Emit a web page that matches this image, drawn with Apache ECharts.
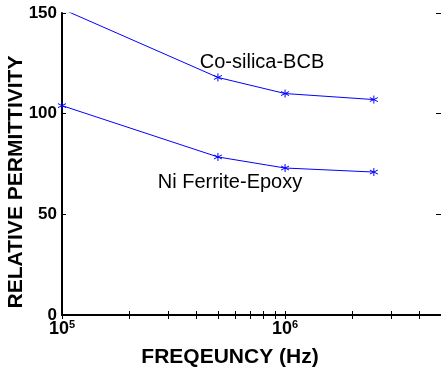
<!DOCTYPE html>
<html>
<head>
<meta charset="utf-8">
<script src="https://cdn.jsdelivr.net/npm/echarts@6/dist/echarts.min.js"></script>
<style>
  html, body { margin: 0; padding: 0; background: #fff; }
  #chart { width: 441px; height: 372px; }
</style>
</head>
<body>
<div id="chart"></div>
<script>
var frequencies = [1e5, 5e5, 1e6, 2.5e6];
var coSilicaBcb = [152, 118, 110, 107];
var niFerriteEpoxy = [104, 78.5, 73, 71];
var xTicks = [1e5, 2e5, 3e5, 4e5, 5e5, 6e5, 7e5, 8e5, 9e5, 1e6, 2e6, 3e6, 4e6, 5e6];
var xLabels = [1e5, 1e6];
var seriesNames = ['Co-silica-BCB', 'Ni Ferrite-Epoxy'];

var FONT = '"Liberation Sans", Arial, sans-serif';
var BLUE = '#0000ff';
var STAR = 'path://M0,-5L0,5M-4.3,-2.5L4.3,2.5M-4.3,2.5L4.3,-2.5';

function pairs(xs, ys) {
  return xs.map(function (x, i) { return [x, ys[i]]; });
}

function lineSeries(name, values) {
  return {
    name: name,
    type: 'line',
    data: pairs(frequencies, values),
    clip: true,
    symbol: STAR,
    symbolSize: 8,
    showSymbol: true,
    lineStyle: { color: BLUE, width: 1 },
    itemStyle: { color: 'transparent', borderColor: BLUE, borderWidth: 1 },
    animation: false
  };
}

var chart = echarts.init(document.getElementById('chart'));
chart.setOption({
  animation: false,
  grid: { left: 62, top: 13, width: 382, bottom: 57 },
  xAxis: [
    {
      type: 'log', logBase: 10, min: 1e5, max: 5e6,
      axisLine: { lineStyle: { color: '#000', width: 2 } },
      axisTick: { inside: true, length: 4, customValues: xTicks, lineStyle: { color: '#000' } },
      splitLine: { show: false },
      axisLabel: {
        customValues: xLabels,
        margin: 4,
        formatter: function (v) {
          return '{b|10}{s|' + Math.round(Math.log10(v)) + '}';
        },
        rich: {
          b: { fontFamily: FONT, fontWeight: 'bold', fontSize: 18, color: '#000', lineHeight: 20 },
          s: { fontFamily: FONT, fontWeight: 'bold', fontSize: 11, color: '#000', verticalAlign: 'top', lineHeight: 20, padding: [0, 0, 10, 0] }
        }
      }
    },
    {
      type: 'log', logBase: 10, min: 1e5, max: 5e6, position: 'top',
      axisLine: { lineStyle: { color: '#000', width: 1 } },
      axisTick: { inside: true, length: 4, customValues: xTicks, lineStyle: { color: '#000' } },
      splitLine: { show: false },
      axisLabel: { show: false }
    }
  ],
  yAxis: [
    {
      type: 'value', min: 0, max: 150, interval: 50,
      axisLine: { show: true, lineStyle: { color: '#000', width: 2 } },
      axisTick: { show: true, inside: true, length: 4, lineStyle: { color: '#000' } },
      splitLine: { show: false },
      axisLabel: { margin: 5, fontFamily: FONT, fontWeight: 'bold', fontSize: 17, color: '#000' }
    },
    {
      type: 'value', min: 0, max: 150, interval: 50, position: 'right',
      axisLine: { show: true, lineStyle: { color: '#000', width: 1 } },
      axisTick: { show: true, inside: true, length: 5, lineStyle: { color: '#000' } },
      splitLine: { show: false },
      axisLabel: { show: false }
    }
  ],
  series: [
    lineSeries(seriesNames[0], coSilicaBcb),
    lineSeries(seriesNames[1], niFerriteEpoxy)
  ],
  graphic: [
    {
      type: 'text', x: 262, y: 62,
      style: { text: seriesNames[0], font: '20px ' + FONT, fill: '#000', align: 'center', verticalAlign: 'middle' }
    },
    {
      type: 'text', x: 230, y: 182,
      style: { text: seriesNames[1], font: '20px ' + FONT, fill: '#000', align: 'center', verticalAlign: 'middle' }
    },
    {
      type: 'text', x: 230, y: 357,
      style: { text: 'FREQEUNCY (Hz)', font: 'bold 21px ' + FONT, fill: '#000', align: 'center', verticalAlign: 'middle' }
    },
    {
      type: 'text', x: 16, y: 182, rotation: Math.PI / 2,
      style: { text: 'RELATIVE PERMITTIVITY', font: 'bold 21px ' + FONT, fill: '#000', align: 'center', verticalAlign: 'middle' }
    }
  ]
});
</script>
</body>
</html>
